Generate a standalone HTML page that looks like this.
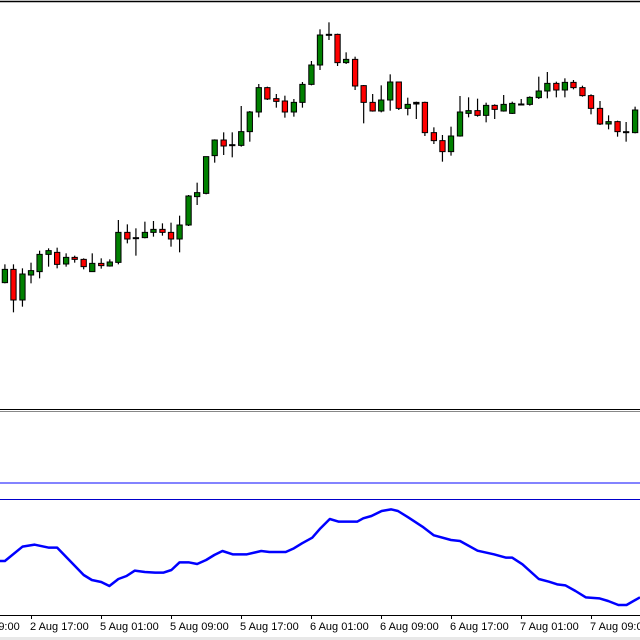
<!DOCTYPE html>
<html><head><meta charset="utf-8"><style>
html,body{margin:0;padding:0;background:#fff;width:640px;height:640px;overflow:hidden}
svg{position:absolute;left:0;display:block}
.lbl{font-family:"Liberation Sans",sans-serif;font-size:11px;fill:#000}
</style></head><body>
<svg id="top" style="top:0" width="640" height="320" viewBox="0 0 1568 960" preserveAspectRatio="none"></svg>
<svg id="ind" style="top:400" width="640" height="240" viewBox="0 0 1568 720" preserveAspectRatio="none">
<polyline fill="none" stroke="#0000ff" stroke-width="2.5" vector-effect="non-scaling-stroke" stroke-linejoin="round"
points="0,483 12,483 55,440 85,434 120,443 140,443 205,525 225,540 248,546 268,558 290,537 310,528 330,512 355,516 380,518 400,518 420,510 440,487 462,487 483,492 505,480 525,465 545,453 570,463 605,463 640,453 660,456 700,456 720,445 740,430 765,413 785,385 808,357 830,365 875,365 890,355 910,348 935,333 958,328 975,333 1000,352 1035,380 1063,406 1105,420 1127,423 1170,452 1210,463 1240,473 1255,473 1280,493 1320,537 1345,545 1365,553 1385,556 1410,573 1435,592 1468,595 1490,603 1515,615 1535,615 1568,592"/>
</svg>
<svg style="top:0" width="640" height="640" viewBox="0 0 640 640">
<line x1="0" y1="1.5" x2="640" y2="1.5" stroke="#000" stroke-width="1.5"/>
<line x1="0" y1="409.5" x2="640" y2="409.5" stroke="#000" stroke-width="1"/>
<line x1="0" y1="411.5" x2="640" y2="411.5" stroke="#888" stroke-width="1"/>
<line x1="0" y1="483" x2="640" y2="483" stroke="#5a5aff" stroke-width="1.5"/>
<line x1="0" y1="499.5" x2="640" y2="499.5" stroke="#0000cc" stroke-width="1"/>
<line x1="0" y1="615.5" x2="640" y2="615.5" stroke="#000" stroke-width="1"/>
<rect x="0" y="637" width="640" height="3" fill="#e8e8e8"/>
<g id="ticks"></g>
</svg>
<script>
var c=[[12,'G',808,848,793,850],[33,'R',808,900,793,937],[55,'G',822,900,805,920],[76,'G',812,825,788,850],[97,'G',763,815,752,835],[119,'G',752,763,745,800],[140,'R',757,793,743,805],[162,'G',772,792,760,800],[183,'R',772,778,767,788],[205,'R',778,800,775,808],[226,'G',790,815,760,815],[248,'R',790,797,775,806],[269,'G',786,798,778,800],[290,'G',697,787,660,793],[312,'R',697,717,673,730],[333,'F',713,716,685,767],[355,'G',697,713,665,715],[376,'G',688,697,663,710],[398,'R',688,697,670,707],[419,'R',697,717,668,740],[440,'G',675,717,647,757],[462,'G',588,675,585,678],[483,'G',578,590,548,615],[505,'G',470,580,470,583],[526,'G',420,467,418,488],[548,'R',420,438,397,465],[569,'F',434,437,397,472],[591,'G',395,436,318,440],[612,'G',336,395,333,425],[634,'G',263,336,252,352],[655,'R',263,297,260,300],[677,'R',296,304,282,323],[698,'R',303,336,287,353],[720,'G',307,336,297,350],[741,'G',253,307,246,323],[763,'G',195,253,183,256],[784,'G',105,195,88,210],[806,'F',103,106,67,120],[827,'R',103,188,101,198],[848,'G',178,188,157,192],[870,'R',178,258,170,270],[891,'R',257,307,255,370],[913,'R',307,333,282,335],[934,'G',300,333,256,337],[956,'G',246,300,223,332],[977,'R',246,325,246,330],[999,'G',313,325,293,346],[1020,'F',307,312,305,357],[1041,'R',307,398,305,408],[1063,'R',398,422,382,432],[1084,'R',422,455,405,485],[1105,'G',408,455,380,467],[1127,'G',336,408,288,410],[1148,'G',332,340,292,352],[1170,'R',332,346,296,350],[1191,'G',316,346,308,367],[1212,'R',316,328,313,357],[1234,'G',313,333,285,335],[1255,'G',310,340,305,342],[1277,'F',312,315,297,316],[1298,'G',292,313,289,317],[1320,'G',273,293,230,297],[1341,'G',250,273,216,295],[1363,'R',250,270,245,292],[1384,'G',247,270,235,292],[1405,'R',247,263,240,268],[1427,'R',263,287,257,290],[1448,'R',287,325,283,343],[1470,'R',325,372,303,375],[1491,'G',365,372,346,388],[1513,'R',365,395,362,410],[1534,'F',395,398,366,425],[1556,'G',330,398,320,400]];
var s='';
c.forEach(function(d){var x=d[0],col=d[1]=='G'?'#008000':d[1]=='R'?'#ff0000':'#000';
s+='<line x1="'+x+'" x2="'+x+'" y1="'+d[4]+'" y2="'+d[5]+'" stroke="#000" stroke-width="1.2" vector-effect="non-scaling-stroke"/>';
s+='<rect x="'+(x-6.5)+'" y="'+d[2]+'" width="13" height="'+Math.max(3,d[3]-d[2])+'" fill="'+col+'" stroke="#000" stroke-width="1" vector-effect="non-scaling-stroke"/>';});
document.getElementById('top').innerHTML=s;
var t=[[31,'2 Aug 17:00'],[101,'5 Aug 01:00'],[171,'5 Aug 09:00'],[241,'5 Aug 17:00'],[311,'6 Aug 01:00'],[381,'6 Aug 09:00'],[451,'6 Aug 17:00'],[521,'7 Aug 01:00'],[591,'7 Aug 09:00']];
var g='<text class="lbl" x="-39" y="630">2 Aug 09:00</text>';
t.forEach(function(d){g+='<line x1="'+(d[0]+.5)+'" x2="'+(d[0]+.5)+'" y1="615" y2="619" stroke="#000"/><text class="lbl" x="'+(d[0]-1)+'" y="630">'+d[1]+'</text>';});
document.getElementById('ticks').innerHTML=g;
</script>
</body></html>
